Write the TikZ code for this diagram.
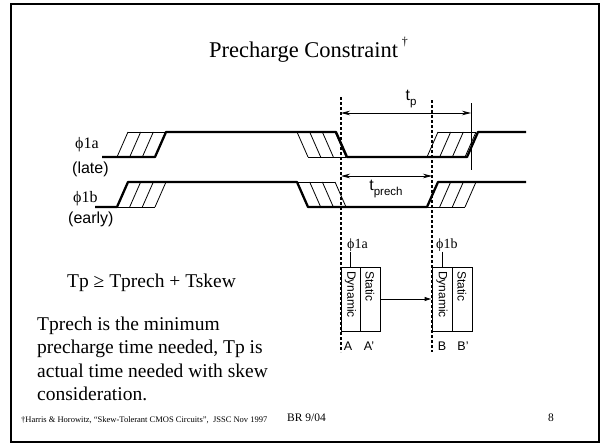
\documentclass[tikz,border=0pt]{standalone}
\usepackage{fontspec}
\setmainfont{Liberation Serif}
\setsansfont{Liberation Sans}
\usepackage{graphicx}
\usetikzlibrary{arrows.meta}
\newcommand*{\sz}[1]{\fontsize{#1}{#1}\selectfont}
\newcommand*{\tsub}[1]{t\raisebox{-0.35em}{\sz{11.5}#1}}

\begin{document}
\begin{tikzpicture}[x=1pt, y=-1pt,
    sig/.style={line width=2.3pt, line join=round},
    hatch/.style={line width=0.8pt},
    guide/.style={line width=1.5pt, dash pattern=on 3pt off 2pt},
    dim/.style={line width=0.8pt, {Stealth[length=9pt,width=4.5pt]}-{Stealth[length=9pt,width=4.5pt]}},
    cell/.style={draw, line width=0.8pt, minimum width=20pt, minimum height=64pt, inner sep=0pt},
    celltext/.style={font=\sffamily\sz{12}, rotate=-90, anchor=west, inner sep=0pt},
    siglabel/.style={anchor=west, inner sep=0pt, font=\sz{16}},
    sublabel/.style={anchor=west, inner sep=0pt, font=\sffamily\sz{16}}]
  \useasboundingbox (0,0) rectangle (605,444);
  \draw[line width=1.8pt] (11,4) rectangle (599,442);

  \node[anchor=base west, inner sep=0pt, font=\sz{22.5}] (title) at (209,58)
    {Precharge Constraint\,\raisebox{0.55em}{\sz{12}†}};

  % clock waveforms
  \foreach \y in {132, 182}
  {
    \foreach \b/\t in {117/128, 308/297, 427/438}
    {
      \foreach \k in {0, ..., 3}
        \draw[hatch] (\b+12.67*\k, \y+25) -- (\t+12.67*\k, \y);
      \draw[hatch] (\t, \y) -- (\t+38, \y) (\b, \y+25) -- (\b+38, \y+25);
    }
  }
  \draw[sig] (102,157) -- (155,157) -- (166,132) -- (336,132) -- (347,157)
    -- (467,157) -- (478,132) -- (526,132);
  \draw[sig] (95,207) -- (117,207) -- (128,182) -- (297,182) -- (308,207)
    -- (427,207) -- (438,182) -- (526,182);

  \node[siglabel] (phiA) at (75,145) {ϕ1a};
  \node[sublabel] (late) at (72,169) {(late)};
  \node[siglabel] (phiB) at (73,199) {ϕ1b};
  \node[sublabel] (early) at (68,219) {(early)};

  \coordinate (gLt) at (341,97);
  \coordinate (gLb) at (341,352);
  \coordinate (gRt) at (432,100);
  \coordinate (gRb) at (432,352);
  \draw[guide] (gLt) -- (gLb);
  \draw[guide] (gRt) -- (gRb);

  \coordinate (endT) at (471,103);
  \coordinate (endB) at (471,170);
  \draw[hatch] (endT) -- (endB);

  \coordinate (tpL) at (341,113);
  \coordinate (tpR) at (471,113);
  \draw[dim] (tpL) -- (tpR);
  \node[font=\sffamily\sz{16}, inner sep=0pt] (tp) at (411,99) {\tsub{p}};

  \coordinate (tqL) at (341,176);
  \coordinate (tqR) at (432,176);
  \draw[dim] (tqL) -- (tqR);
  \node[font=\sffamily\sz{16}, inner sep=0pt] (tq) at (386,189) {\tsub{prech}};

  % latches
  \node[cell, minimum width=19pt] (dynA) at (350.5,299) {};
  \node[cell] (statA) at (370,299) {};
  \node[cell] (dynB) at (442,299) {};
  \node[cell] (statB) at (462,299) {};
  \node[celltext] (txtDynA) at (350.5,271) {Dynamic};
  \node[celltext] (txtStatA) at (370,271) {Static};
  \node[celltext] (txtDynB) at (442,271) {Dynamic};
  \node[celltext] (txtStatB) at (462,271) {Static};

  \node[siglabel, font=\sz{14}] (phiAlow) at (347,245) {ϕ1a};
  \node[siglabel, font=\sz{14}] (phiBlow) at (436,245) {ϕ1b};
  \draw[hatch] (phiAlow.south -| dynA.north) -- (dynA.north);
  \draw[hatch] (phiBlow.south -| dynB.north) -- (dynB.north);
  \draw[hatch, -{Latex[length=7pt,width=4.5pt]}] (statA.east) -- (dynB.west);

  \node[font=\sffamily\sz{12.5}, inner sep=0pt] (nA) at (348,346) {A};
  \node[font=\sffamily\sz{12.5}, inner sep=0pt] (nAp) at (369,346) {A'};
  \node[font=\sffamily\sz{12.5}, inner sep=0pt] (nB) at (442,346) {B};
  \node[font=\sffamily\sz{12.5}, inner sep=0pt] (nBp) at (463,346) {B'};

  % text
  \node[anchor=base west, inner sep=0pt, font=\sz{19.5}] (eq) at (67,287)
    {Tp ≥ Tprech + Tskew};
  \node[anchor=north west, align=left, inner sep=0pt, font=\fontsize{19.5}{23.5}\selectfont]
    (note) at (37,316.5)
    {Tprech is the minimum\\ precharge time needed, Tp is\\ actual time needed with skew\\ consideration.};

  \node[anchor=base west, inner sep=0pt, font=\sz{8.5}] (ref) at (21,422)
    {†Harris \& Horowitz, “Skew-Tolerant CMOS Circuits”,~~JSSC Nov 1997};
  \node[anchor=base west, inner sep=0pt, font=\sz{11.5}] (date) at (287,421) {BR 9/04};
  \node[anchor=base west, inner sep=0pt, font=\sz{11.5}] (page) at (548,421) {8};
\end{tikzpicture}
\end{document}
